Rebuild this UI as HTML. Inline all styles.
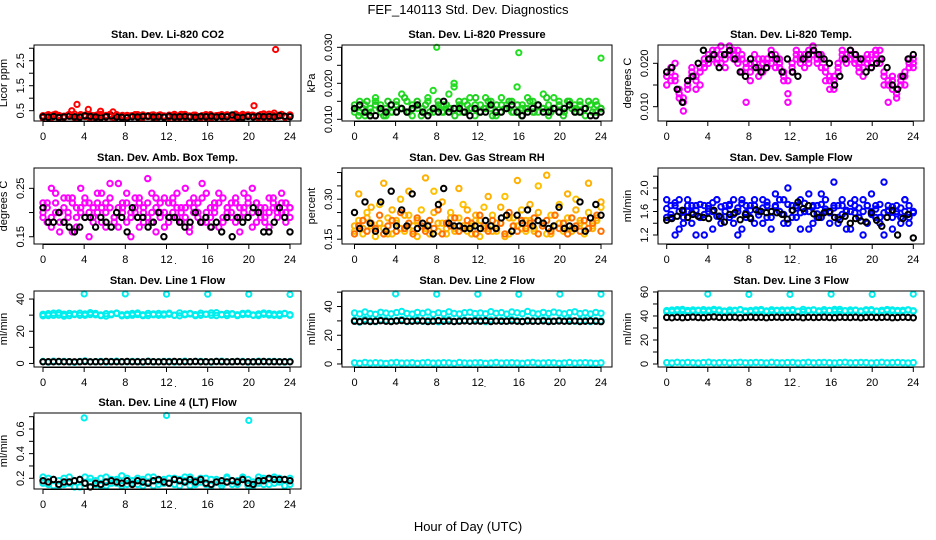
<!DOCTYPE html>
<html><head><meta charset="utf-8"><style>
html,body{margin:0;padding:0;background:#fff;}
svg{display:block;font-family:"Liberation Sans",sans-serif;}
</style></head><body>
<svg id="chart" width="936" height="540" viewBox="0 0 936 540" xmlns="http://www.w3.org/2000/svg">
<rect width="936" height="540" fill="#fff"/>
<text x="468" y="14" text-anchor="middle" font-size="13">FEF_140113  Std. Dev. Diagnostics</text>
<text x="468" y="531" text-anchor="middle" font-size="13">Hour of Day (UTC)</text>
</svg>
<script>
const xTicks=[0,4,8,12,16,20,24];
const co2Red1=[0.30,0.25,0.33,0.22,0.28,0.35,0.24,0.30,0.27,0.32,0.22,0.29,0.31,0.26,0.34,0.23,0.28,0.30,0.25,0.33,0.27,0.22,0.31,0.29,0.26,0.35,0.24,0.30,0.28,0.32,0.23,0.27,0.30,0.25,0.34,0.29,0.22,0.31,0.27,0.33,0.26,0.30,0.24,0.36,0.28,0.32,0.25,0.30];
const co2Red2=[0.22,0.34,0.27,0.31,0.24,0.29,0.36,0.26,0.32,0.23,0.30,0.35,0.25,0.28,0.33,0.21,0.31,0.27,0.34,0.24,0.30,0.33,0.26,0.28,0.32,0.23,0.29,0.35,0.25,0.31,0.27,0.34,0.22,0.30,0.26,0.33,0.29,0.24,0.35,0.28,0.31,0.23,0.37,0.27,0.40,0.30,0.26,0.33];
const co2Red3=[0.27,0.31,0.24,0.36,0.29,0.23,0.32,0.28,0.25,0.34,0.27,0.24,0.30,0.33,0.26,0.29,0.35,0.23,0.28,0.31,0.25,0.29,0.34,0.22,0.30,0.27,0.32,0.25,0.33,0.28,0.24,0.31,0.27,0.35,0.23,0.29,0.32,0.26,0.30,0.24,0.34,0.28,0.31,0.25,0.33,0.27,0.36,0.24,0.30,0.28,0.32,0.26,0.34,0.29,0.23,0.31,0.27,0.35,0.25,0.30];
const co2Black=[0.26,0.24,0.27,0.23,0.25,0.28,0.26,0.24,0.30,0.27,0.25,0.23,0.26,0.29,0.25,0.24,0.22,0.26,0.25,0.27,0.28,0.25,0.26,0.24,0.28,0.25,0.26,0.27,0.25,0.24,0.27,0.26,0.28,0.25,0.27,0.26,0.33,0.24,0.23,0.27,0.25,0.28,0.26,0.27,0.25,0.30,0.28,0.26];
const co2SpikeH=[2.8,3.3,4.4,5.6,6.8,20.5,22.6];
const co2SpikeV=[0.5,0.75,0.55,0.48,0.45,0.7,2.95];
const presG1=[0.013,0.012,0.014,0.011,0.015,0.012,0.013,0.014,0.012,0.013,0.015,0.011,0.014,0.013,0.016,0.012,0.013,0.014,0.017,0.019,0.012,0.015,0.013,0.014,0.012,0.016,0.013,0.011,0.014,0.013,0.015,0.012,0.014,0.013,0.015,0.012,0.013,0.014,0.016,0.012,0.013,0.015,0.014,0.012,0.013,0.014,0.012,0.013];
const presG2=[0.012,0.015,0.011,0.013,0.016,0.014,0.011,0.012,0.015,0.017,0.012,0.014,0.013,0.012,0.015,0.018,0.014,0.012,0.013,0.020,0.014,0.012,0.016,0.011,0.014,0.013,0.015,0.012,0.016,0.014,0.012,0.019,0.013,0.016,0.012,0.014,0.017,0.011,0.013,0.015,0.012,0.014,0.013,0.015,0.011,0.014,0.015,0.013];
const presG3=[0.014,0.011,0.013,0.015,0.012,0.014,0.013,0.011,0.015,0.012,0.014,0.013,0.016,0.012,0.013,0.015,0.011,0.014,0.012,0.013,0.015,0.012,0.014,0.013,0.011,0.015,0.012,0.014,0.013,0.016,0.012,0.013,0.015,0.011,0.014,0.012,0.013,0.015,0.012,0.014,0.011,0.013,0.015,0.012,0.014,0.013,0.016,0.012,0.013,0.014,0.011,0.015,0.013,0.012,0.014,0.013,0.015,0.012,0.014,0.013];
const presBlack=[0.013,0.014,0.012,0.011,0.011,0.013,0.012,0.014,0.012,0.013,0.012,0.013,0.014,0.012,0.011,0.013,0.012,0.015,0.012,0.013,0.013,0.012,0.011,0.013,0.012,0.012,0.014,0.012,0.012,0.013,0.014,0.012,0.011,0.012,0.013,0.014,0.012,0.012,0.013,0.012,0.013,0.014,0.012,0.012,0.013,0.011,0.011,0.012];
const presSpikeH=[8,16,24];
const presSpikeV=[0.030,0.0285,0.027];
const tempM1=[0.017,0.019,0.016,0.013,0.011,0.014,0.018,0.017,0.015,0.019,0.022,0.021,0.023,0.020,0.022,0.024,0.021,0.023,0.022,0.020,0.016,0.019,0.021,0.018,0.020,0.022,0.019,0.021,0.017,0.013,0.019,0.022,0.020,0.021,0.023,0.022,0.020,0.021,0.018,0.016,0.014,0.018,0.021,0.022,0.023,0.021,0.019,0.017,0.020,0.022,0.021,0.023,0.018,0.016,0.014,0.012,0.015,0.017,0.019,0.021];
const tempM2=[0.015,0.018,0.020,0.012,0.009,0.016,0.019,0.014,0.018,0.021,0.020,0.023,0.021,0.024,0.019,0.022,0.023,0.021,0.018,0.011,0.020,0.022,0.017,0.021,0.019,0.023,0.021,0.020,0.016,0.011,0.020,0.023,0.022,0.019,0.021,0.024,0.022,0.019,0.016,0.014,0.017,0.020,0.023,0.021,0.022,0.020,0.018,0.021,0.022,0.019,0.023,0.020,0.015,0.011,0.016,0.013,0.017,0.015,0.021,0.020];
const tempM3=[0.018,0.016,0.017,0.014,0.012,0.015,0.017,0.016,0.019,0.020,0.021,0.022,0.020,0.022,0.021,0.023,0.022,0.020,0.021,0.019,0.018,0.020,0.019,0.020,0.021,0.020,0.022,0.019,0.018,0.016,0.018,0.021,0.021,0.022,0.020,0.023,0.021,0.022,0.019,0.017,0.016,0.019,0.022,0.020,0.021,0.022,0.020,0.019,0.021,0.020,0.022,0.021,0.017,0.015,0.017,0.014,0.016,0.018,0.020,0.019];
const tempBlack=[0.018,0.019,0.014,0.011,0.016,0.017,0.020,0.023,0.021,0.022,0.019,0.022,0.023,0.021,0.018,0.017,0.021,0.019,0.018,0.019,0.022,0.021,0.018,0.021,0.018,0.017,0.021,0.022,0.023,0.022,0.021,0.020,0.015,0.017,0.021,0.023,0.022,0.021,0.018,0.019,0.020,0.021,0.019,0.015,0.014,0.017,0.021,0.022];
const boxM1=[0.19,0.22,0.17,0.24,0.20,0.18,0.23,0.16,0.21,0.25,0.19,0.22,0.18,0.20,0.24,0.17,0.21,0.19,0.26,0.22,0.18,0.20,0.23,0.17,0.21,0.19,0.24,0.16,0.22,0.20,0.18,0.23,0.19,0.21,0.25,0.17,0.20,0.22,0.18,0.24,0.19,0.21,0.17,0.23,0.20,0.22,0.18,0.21,0.24,0.19,0.17,0.22,0.20,0.18,0.23,0.21,0.19,0.24,0.20,0.21];
const boxM2=[0.22,0.18,0.25,0.20,0.16,0.23,0.19,0.22,0.17,0.20,0.23,0.15,0.21,0.24,0.18,0.22,0.26,0.19,0.17,0.21,0.24,0.15,0.20,0.22,0.18,0.27,0.20,0.23,0.19,0.17,0.22,0.20,0.24,0.18,0.21,0.16,0.23,0.19,0.26,0.20,0.17,0.22,0.24,0.18,0.21,0.19,0.23,0.16,0.20,0.22,0.25,0.18,0.21,0.19,0.17,0.23,0.20,0.22,0.18,0.19];
const boxM3=[0.20,0.21,0.19,0.22,0.18,0.21,0.20,0.23,0.19,0.21,0.22,0.20,0.19,0.22,0.21,0.20,0.23,0.18,0.21,0.20,0.22,0.19,0.21,0.23,0.20,0.22,0.18,0.21,0.20,0.23,0.19,0.22,0.21,0.20,0.19,0.22,0.21,0.20,0.23,0.18,0.21,0.20,0.22,0.19,0.21,0.20,0.22,0.19,0.21,0.23,0.20,0.22,0.19,0.21,0.20,0.22,0.21,0.20,0.22,0.21];
const boxBlack=[0.21,0.18,0.18,0.20,0.18,0.17,0.16,0.17,0.19,0.19,0.17,0.19,0.18,0.17,0.20,0.19,0.16,0.21,0.19,0.19,0.17,0.18,0.20,0.15,0.19,0.19,0.18,0.17,0.18,0.20,0.18,0.19,0.17,0.18,0.16,0.19,0.15,0.19,0.18,0.19,0.21,0.20,0.16,0.16,0.18,0.21,0.19,0.16];
const rhO1=[0.18,0.22,0.17,0.25,0.20,0.16,0.28,0.19,0.23,0.17,0.21,0.30,0.18,0.24,0.20,0.16,0.26,0.19,0.22,0.33,0.18,0.21,0.17,0.25,0.19,0.23,0.28,0.18,0.20,0.22,0.16,0.27,0.19,0.24,0.18,0.21,0.31,0.17,0.23,0.20,0.26,0.18,0.22,0.19,0.35,0.21,0.17,0.24,0.20,0.28,0.18,0.23,0.19,0.30,0.21,0.17,0.25,0.20,0.22,0.27];
const rhO2=[0.20,0.32,0.19,0.23,0.27,0.18,0.21,0.36,0.17,0.26,0.22,0.19,0.24,0.33,0.18,0.22,0.20,0.38,0.17,0.25,0.21,0.29,0.19,0.23,0.18,0.34,0.20,0.26,0.17,0.24,0.22,0.19,0.31,0.18,0.21,0.27,0.16,0.23,0.20,0.37,0.19,0.22,0.28,0.18,0.25,0.20,0.39,0.17,0.24,0.21,0.19,0.32,0.18,0.26,0.22,0.20,0.36,0.19,0.23,0.29];
const rhO3=[0.17,0.20,0.22,0.18,0.21,0.19,0.24,0.17,0.20,0.22,0.18,0.25,0.19,0.21,0.17,0.23,0.20,0.18,0.22,0.19,0.26,0.17,0.21,0.20,0.23,0.18,0.19,0.22,0.21,0.17,0.24,0.20,0.18,0.22,0.19,0.21,0.17,0.25,0.20,0.18,0.22,0.19,0.21,0.23,0.17,0.20,0.22,0.18,0.24,0.19,0.21,0.17,0.23,0.20,0.18,0.22,0.19,0.21,0.24,0.18];
const rhBlack=[0.25,0.19,0.29,0.21,0.18,0.29,0.18,0.33,0.20,0.26,0.20,0.32,0.19,0.21,0.20,0.17,0.28,0.34,0.21,0.20,0.20,0.19,0.19,0.20,0.19,0.22,0.20,0.19,0.23,0.24,0.18,0.24,0.21,0.26,0.20,0.22,0.21,0.19,0.20,0.27,0.19,0.20,0.19,0.29,0.18,0.23,0.28,0.24];
const sfB1=[1.8,1.5,1.7,1.3,1.6,1.8,1.4,1.7,1.5,1.2,1.7,1.6,1.8,1.4,1.7,1.5,1.8,1.6,1.3,1.7,1.5,1.8,1.6,1.4,1.7,1.5,1.9,1.6,1.8,1.4,1.7,1.5,1.8,1.6,1.3,1.7,1.5,1.9,1.6,1.4,1.7,1.5,1.8,1.6,1.3,1.7,1.5,1.8,1.4,1.6,1.7,1.5,1.2,1.7,1.5,1.6,1.4,1.8,1.5,1.6];
const sfB2=[1.5,1.7,1.2,1.8,1.4,1.6,1.7,1.2,1.5,1.7,1.6,1.3,1.8,1.5,1.6,1.7,1.4,1.2,1.8,1.5,1.7,1.4,1.6,1.8,1.5,1.3,1.7,1.6,1.4,2.0,1.5,1.7,1.3,1.6,1.9,1.4,1.7,1.5,1.8,1.6,2.1,1.4,1.7,1.3,1.6,1.8,1.5,1.2,1.7,1.9,1.5,1.4,2.1,1.6,1.3,1.7,1.5,1.8,1.4,1.6];
const sfB3=[1.65,1.55,1.75,1.60,1.50,1.70,1.58,1.62,1.72,1.55,1.65,1.75,1.52,1.68,1.60,1.72,1.55,1.66,1.74,1.58,1.62,1.70,1.54,1.66,1.76,1.60,1.68,1.80,1.55,1.72,1.62,1.66,1.58,1.74,1.60,1.68,1.56,1.72,1.64,1.58,1.66,1.70,1.55,1.62,1.74,1.58,1.66,1.60,1.70,1.55,1.64,1.72,1.58,1.62,1.68,1.56,1.66,1.60,1.70,1.58];
const sfBlack=[1.45,1.48,1.52,1.62,1.50,1.55,1.52,1.50,1.48,1.62,1.52,1.42,1.55,1.58,1.46,1.55,1.48,1.63,1.60,1.58,1.60,1.58,1.55,1.47,1.62,1.76,1.65,1.70,1.56,1.50,1.58,1.60,1.50,1.46,1.52,1.40,1.48,1.44,1.42,1.58,1.45,1.35,1.50,1.62,1.20,1.48,1.55,1.15];
const l1Cyan=[30.5,29.8,31.2,30.1,29.5,31.0,30.4,29.9,30.8,31.5,30.2,29.7,30.9,30.3,31.1,29.6,30.6,30.0,31.3,30.2,29.8,30.7,31.0,30.1,30.5,29.9,31.4,30.3,30.8,29.7,31.2,30.6,30.0,31.5,30.4,29.8,30.9,30.2,31.1,30.5,29.9,30.7,31.3,30.1,30.6,29.8,30.9,30.3];
const l1Cyan2=[29.6,30.9,30.0,31.4,30.6,29.7,30.8,31.2,29.9,30.4,31.0,30.1,29.5,30.7,31.3,30.2,29.8,31.0,30.4,29.7,31.1,30.3,29.9,30.8,31.2,30.0,29.6,30.7,31.1,30.3,29.9,30.5,31.4,29.8,30.2,31.0,30.6,29.7,30.4,31.2,30.1,29.8,30.5,31.0,29.9,30.7,31.1,30.0];
const l1CyanLow=[1.2,0.9,1.4,1.0,1.3,1.1,0.8,1.2,1.5,1.0,1.1,1.3,0.9,1.2,1.4,1.0,1.1,1.3,1.2,0.9,1.4,1.1,1.0,1.2,1.3,0.9,1.1,1.4,1.0,1.2,1.3,1.1,0.9,1.2,1.4,1.0,1.1,1.3,1.2,0.9,1.1,1.4,1.0,1.2,1.3,1.1,0.9,1.2];
const l1Black=[1.0,1.1,1.0,1.2,1.0,1.1,1.0,1.1,1.2,1.0,1.1,1.0,1.2,1.1,1.0,1.1,1.2,1.0,1.1,1.0,1.2,1.1,1.0,1.1,1.0,1.2,1.1,1.0,1.1,1.2,1.0,1.1,1.0,1.2,1.1,1.0,1.1,1.2,1.0,1.1,1.0,1.1,1.2,1.0,1.1,1.0,1.1,1.0];
const l1SpikeH=[4,8,12,16,20,24];
const l1SpikeV=[43.2,43.2,43.0,43.0,43.0,42.8];
const l2Cyan=[35.5,34.8,36.2,35.1,34.6,36.0,35.4,34.9,35.8,36.5,35.2,34.7,35.9,35.3,36.1,34.6,35.6,35.0,36.3,35.2,34.8,35.7,36.0,35.1,35.5,34.9,36.4,35.3,35.8,34.7,36.2,35.6,35.0,36.5,35.4,34.8,35.9,35.2,36.1,35.5,34.9,35.7,36.3,35.1,35.6,34.8,35.9,35.3];
const l2CyanMid=[30.5,29.2,31.0,30.1,29.5,30.8,30.4,29.9,30.2,31.0,29.6,30.3,30.8,29.8,30.5,30.1,29.4,30.6,30.9,29.7,30.2,30.5,29.9,30.8,30.3,29.5,30.7,30.0,30.4,29.8,30.9,30.2,29.6,30.5,30.1,29.9,30.6,30.3,29.7,30.4,30.0,30.8,29.8,30.2,30.5,29.6,30.3,30.0];
const l2CyanLow=[0.8,0.5,1.0,0.6,0.9,0.7,0.4,0.8,1.0,0.6,0.7,0.9,0.5,0.8,1.0,0.6,0.7,0.9,0.8,0.5,1.0,0.7,0.6,0.8,0.9,0.5,0.7,1.0,0.6,0.8,0.9,0.7,0.5,0.8,1.0,0.6,0.7,0.9,0.8,0.5,0.7,1.0,0.6,0.8,0.9,0.7,0.5,0.8];
const l2Black=[29.8,29.5,29.9,29.6,29.8,30.1,29.7,29.6,29.9,30.2,29.8,29.7,30.0,29.9,29.6,29.8,30.1,29.7,29.9,29.6,29.8,30.0,29.7,29.9,29.8,30.1,29.6,29.9,29.7,29.8,30.0,29.7,29.6,29.9,29.8,29.7,30.0,29.6,29.8,29.9,29.7,29.8,30.0,29.6,29.7,29.9,29.8,29.5];
const l2SpikeH=[4,8,12,16,20,24];
const l2SpikeV=[48.8,48.6,48.6,48.5,48.6,48.6];
const l3Cyan=[44.5,43.8,45.2,44.1,43.6,45.0,44.4,43.9,44.8,45.5,44.2,43.7,44.9,44.3,45.1,43.6,44.6,44.0,45.3,44.2,43.8,44.7,45.0,44.1,44.5,43.9,45.4,44.3,44.8,43.7,45.2,44.6,44.0,45.5,44.4,43.8,44.9,44.2,45.1,44.5,43.9,44.7,45.3,44.1,44.6,43.8,44.9,44.3];
const l3Cyan2=[43.6,44.9,44.0,45.4,44.6,43.7,44.8,45.2,43.9,44.4,45.0,44.1,43.5,44.7,45.3,44.2,43.8,45.0,44.4,43.7,45.1,44.3,43.9,44.8,45.2,44.0,43.6,44.7,45.1,44.3,43.9,44.5,45.4,43.8,44.2,45.0,44.6,43.7,44.4,45.2,44.1,43.8,44.5,45.0,43.9,44.7,45.1,44.0];
const l3CyanLow=[1.2,0.9,1.4,1.0,1.3,1.1,0.8,1.2,1.5,1.0,1.1,1.3,0.9,1.2,1.4,1.0,1.1,1.3,1.2,0.9,1.4,1.1,1.0,1.2,1.3,0.9,1.1,1.4,1.0,1.2,1.3,1.1,0.9,1.2,1.4,1.0,1.1,1.3,1.2,0.9,1.1,1.4,1.0,1.2,1.3,1.1,0.9,1.2];
const l3Black=[38.8,38.5,38.9,38.6,38.8,39.1,38.7,38.6,38.9,39.2,38.8,38.7,39.0,38.9,38.6,38.8,39.1,38.7,38.9,38.6,38.8,39.0,38.7,38.9,38.8,39.1,38.6,38.9,38.7,38.8,39.0,38.7,38.6,38.9,38.8,38.7,39.0,38.6,38.8,38.9,38.7,38.8,39.0,38.6,38.7,38.9,38.8,38.5];
const l3SpikeH=[4,8,12,16,20,24];
const l3SpikeV=[58.2,58.0,58.0,58.1,58.0,58.2];
const l4Cyan1=[0.21,0.15,0.19,0.14,0.20,0.16,0.18,0.13,0.21,0.17,0.15,0.20,0.14,0.19,0.16,0.22,0.15,0.18,0.20,0.14,0.17,0.21,0.15,0.19,0.16,0.20,0.14,0.18,0.21,0.15,0.17,0.20,0.14,0.19,0.16,0.21,0.15,0.18,0.20,0.14,0.17,0.21,0.15,0.19,0.16,0.20,0.14,0.20];
const l4Cyan2=[0.16,0.20,0.14,0.18,0.15,0.21,0.13,0.19,0.16,0.20,0.18,0.14,0.21,0.16,0.19,0.14,0.20,0.16,0.15,0.19,0.21,0.14,0.18,0.16,0.20,0.15,0.19,0.21,0.14,0.18,0.20,0.15,0.19,0.17,0.14,0.20,0.18,0.15,0.21,0.19,0.14,0.16,0.20,0.15,0.21,0.17,0.19,0.15];
const l4Black=[0.18,0.17,0.19,0.15,0.17,0.17,0.18,0.19,0.16,0.13,0.16,0.15,0.17,0.18,0.17,0.16,0.18,0.15,0.18,0.17,0.16,0.18,0.19,0.17,0.16,0.19,0.18,0.17,0.19,0.17,0.19,0.16,0.15,0.17,0.18,0.17,0.18,0.17,0.19,0.16,0.15,0.18,0.18,0.20,0.19,0.19,0.19,0.18];
const l4SpikeH=[4,12,20];
const l4SpikeV=[0.69,0.71,0.67];

const colLeft=[34,342,658],colRight=[301,612,924];
const colX0=[43,354.5,666.7],colX24=[290,601,913.3];
const rowTop=[45,168,291,413],rowBot=[121,244,367,489];

const panels=[
 {name:'co2',title:'Stan. Dev. Li-820 CO2',ylab:'Licor ppm',r:0,c:0,ylo:0.087,yhi:3.13,ticks:[0.5,1,1.5,2,2.5,3],labels:['0.5','','1.5','','2.5',''],
  series:[[co2Red1,'#ff0000'],[co2Red2,'#ff0000'],[co2Red3,'#ff0000'],[co2Black,'#000000']],spH:co2SpikeH,spV:co2SpikeV,spC:'#ff0000'},
 {name:'pressure',title:'Stan. Dev. Li-820 Pressure',ylab:'kPa',r:0,c:1,ylo:0.00953,yhi:0.03064,ticks:[0.010,0.015,0.020,0.025,0.030],labels:['0.010','','0.020','','0.030'],
  series:[[presG1,'#22dd22'],[presG2,'#22dd22'],[presG3,'#22cc22'],[presBlack,'#000000']],spH:presSpikeH,spV:presSpikeV,spC:'#22dd22'},
 {name:'temp',title:'Stan. Dev. Li-820 Temp.',ylab:'degrees C',r:0,c:2,ylo:0.0067,yhi:0.02422,ticks:[0.010,0.015,0.020],labels:['0.010','','0.020'],
  series:[[tempM1,'#ff00ff'],[tempM2,'#ff00ff'],[tempM3,'#ff00ff'],[tempBlack,'#000000']]},
 {name:'box-temp',title:'Stan. Dev. Amb. Box Temp.',ylab:'degrees C',r:1,c:0,ylo:0.135,yhi:0.292,ticks:[0.15,0.20,0.25],labels:['0.15','','0.25'],
  series:[[boxM1,'#ff00ff'],[boxM2,'#ff00ff'],[boxM3,'#ff00ff'],[boxBlack,'#000000']]},
 {name:'rh',title:'Stan. Dev. Gas Stream RH',ylab:'percent',r:1,c:1,ylo:0.132,yhi:0.417,ticks:[0.15,0.20,0.25,0.30,0.35,0.40],labels:['0.15','','','0.30','',''],
  series:[[rhO1,'#ffc000'],[rhO2,'#ffb000'],[rhO3,'#ff7000'],[rhBlack,'#000000']]},
 {name:'sample-flow',title:'Stan. Dev. Sample Flow',ylab:'ml/min',r:1,c:2,ylo:1.047,yhi:2.34,ticks:[1.2,1.4,1.6,1.8,2.0,2.2],labels:['1.2','','1.6','','2.0',''],
  series:[[sfB1,'#0000ff'],[sfB2,'#0000ff'],[sfB3,'#0000ff'],[sfBlack,'#000000']]},
 {name:'line1-flow',title:'Stan. Dev. Line 1 Flow',ylab:'ml/min',r:2,c:0,ylo:-2.2,yhi:45,ticks:[0,10,20,30,40],labels:['0','','20','','40'],
  series:[[l1Cyan,'#00eeee'],[l1Cyan2,'#00eeee'],[l1CyanLow,'#00eeee'],[l1Black,'#000000']],spH:l1SpikeH,spV:l1SpikeV,spC:'#00eeee'},
 {name:'line2-flow',title:'Stan. Dev. Line 2 Flow',ylab:'ml/min',r:2,c:1,ylo:-2.1,yhi:50.8,ticks:[0,10,20,30,40,50],labels:['0','','20','','40',''],
  series:[[l2Cyan,'#00eeee'],[l2CyanMid,'#00eeee'],[l2CyanLow,'#00eeee'],[l2Black,'#000000']],spH:l2SpikeH,spV:l2SpikeV,spC:'#00eeee'},
 {name:'line3-flow',title:'Stan. Dev. Line 3 Flow',ylab:'ml/min',r:2,c:2,ylo:-2.5,yhi:60.8,ticks:[0,10,20,30,40,50,60],labels:['0','','20','','40','','60'],
  series:[[l3Cyan,'#00eeee'],[l3Cyan2,'#00eeee'],[l3CyanLow,'#00eeee'],[l3Black,'#000000']],spH:l3SpikeH,spV:l3SpikeV,spC:'#00eeee'},
 {name:'line4-flow',title:'Stan. Dev. Line 4 (LT) Flow',ylab:'ml/min',r:3,c:0,ylo:0.113,yhi:0.73,ticks:[0.2,0.3,0.4,0.5,0.6,0.7],labels:['0.2','','0.4','','0.6',''],
  series:[[l4Cyan1,'#00eeee'],[l4Cyan2,'#00eeee'],[l4Black,'#000000']],spH:l4SpikeH,spV:l4SpikeV,spC:'#00eeee'}
];

const svg=document.getElementById('chart');
const NS='http://www.w3.org/2000/svg';
function mk(tag,attrs,parent){const e=document.createElementNS(NS,tag);for(const k in attrs)e.setAttribute(k,attrs[k]);parent.appendChild(e);return e;}

panels.forEach(p=>{
  const L=colLeft[p.c],R=colRight[p.c],T=rowTop[p.r],B=rowBot[p.r];
  const x0=colX0[p.c],x24=colX24[p.c];
  const xs=h=>x0+(x24-x0)*h/24;
  const ys=v=>B-(v-p.ylo)/(p.yhi-p.ylo)*(B-T);
  const g=mk('g',{},svg);
  
  
  const t=mk('text',{x:(L+R)/2,y:T-7,'text-anchor':'middle','font-size':'11','font-weight':'bold'},g);
  t.textContent=p.title;
  
  
  const cx=L-27,cy=(T+B)/2;
  const yl=mk('text',{x:cx,y:cy,'text-anchor':'middle','font-size':'11',transform:`rotate(-90 ${cx} ${cy})`},g);
  yl.textContent=p.ylab;
  
  
  const pts=mk('g',{fill:'none','stroke-width':'2'},g);
  
  
  p.series.forEach(s=>{
    const vals=s[0],n=vals.length;
    vals.forEach((v,i)=>{
      const h=i*24/(n-1);
      const c=mk('circle',{cx:xs(h).toFixed(1),cy:ys(v).toFixed(1),r:2.7,stroke:s[1]},pts);
      
      
    });
  });
  if(p.spH){p.spH.forEach((h,i)=>{
    const c=mk('circle',{cx:xs(h).toFixed(1),cy:ys(p.spV[i]).toFixed(1),r:2.6,stroke:p.spC},pts);
    
    
  });}
  const box=mk('rect',{x:L,y:T,width:R-L,height:B-T,fill:'none',stroke:'#000','stroke-width':'1'},g);
  
  
  const xa=mk('g',{stroke:'#000','stroke-width':'1'},g);
  
  
  mk('line',{x1:xs(0),x2:xs(24),y1:B+0.5,y2:B+0.5},xa);
  xTicks.forEach(h=>{
    mk('line',{x1:xs(h),x2:xs(h),y1:B,y2:B+5},xa);
    const tl=mk('text',{x:xs(h),y:B+19,'text-anchor':'middle','font-size':'11',stroke:'none',fill:'#000'},xa);
    tl.textContent=h;
    
    
  });
  const dot=mk('text',{x:(L+R)/2+8,y:B+20,'text-anchor':'middle','font-size':'9',stroke:'none',fill:'#000'},xa);
  dot.textContent='.';
  const ya=mk('g',{stroke:'#000','stroke-width':'1'},g);
  
  
  mk('line',{x1:L-0.5,x2:L-0.5,y1:ys(p.ticks[0]),y2:ys(p.ticks[p.ticks.length-1])},ya);
  p.ticks.forEach((v,i)=>{
    const y=ys(v);
    mk('line',{x1:L-5,x2:L,y1:y,y2:y},ya);
    if(p.labels[i]){
      const lx=L-10;
      const tl=mk('text',{x:lx,y:y,'text-anchor':'middle','font-size':'11',stroke:'none',fill:'#000',transform:`rotate(-90 ${lx} ${y})`},ya);
      tl.textContent=p.labels[i];
      
      
    }
  });
});
</script>
</body></html>
